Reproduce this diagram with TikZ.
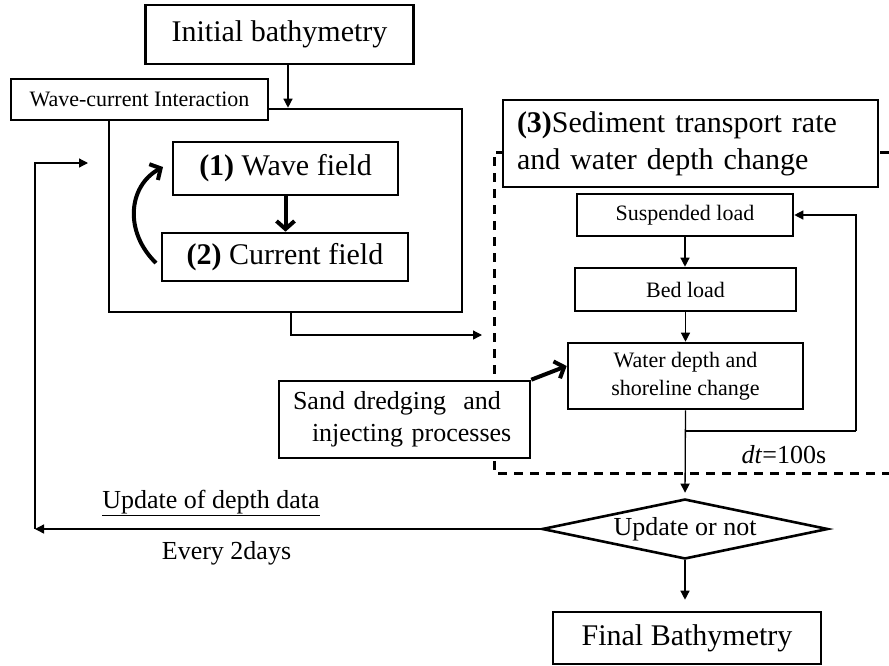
\documentclass[tikz,border=0pt]{standalone}
\usepackage{fontspec}
\setmainfont{Liberation Serif}
\usetikzlibrary{arrows.meta,shapes.geometric,calc}
\tikzset{
  box/.style={draw, line width=2.6pt, fill=white, inner sep=0pt, align=center},
  conn/.style={line width=1.3pt, -{Triangle[length=9pt,width=9pt]}},
  plainline/.style={line width=1.3pt},
  bigarrow/.style={line width=4pt, -{Straight Barb[length=8pt,width=18pt]}},
  fthirty/.style={font=\fontsize{30}{37}\selectfont},
  ftwsix/.style={font=\fontsize{26}{32}\selectfont},
  ftwtwo/.style={font=\fontsize{22}{28}\selectfont},
  dashbox/.style={line width=3pt, dash pattern=on 9pt off 7pt},
}
\begin{document}
\begin{tikzpicture}[x=1pt,y=-1pt]
\useasboundingbox[fill=white] (0,0) rectangle (889,665);

% top
\node[box, fthirty, minimum width=268pt, minimum height=59pt] (init) at (279.5,34.5) {Initial bathymetry};

% wave-current interaction block
\node[box, minimum width=353pt, minimum height=203pt] (big) at (285.5,210.5) {};
\node[box, ftwtwo, minimum width=257pt, minimum height=41pt] (wci) at (139.5,99.5) {Wave-current Interaction};
\node[box, fthirty, minimum width=225pt, minimum height=53pt] (wave) at (285.5,168.5) {\textbf{(1)} Wave field};
\node[box, fthirty, minimum width=246pt, minimum height=48pt] (current) at (285,257) {\textbf{(2)} Current field};

\draw[conn] ([xshift=8.5pt]init.south) -- ([xshift=8.5pt]init.south |- big.north);
\draw[bigarrow] (wave.south) -- (wave.south |- current.north);
\coordinate (cvs) at (156,263);
\coordinate (cve) at (163,167);
\draw[bigarrow] (cvs) .. controls (124,232) and (128,186) .. (cve);

% sediment block
\draw[dashbox] (889,152) -- (494,152) -- (494,473) -- (889,473);
\node[box, fthirty, minimum width=375pt, minimum height=87pt, text width=347pt, align=left] (sed) at (690.5,143.5) {\textbf{(3)}Sediment transport rate\\and water depth change};
\node[box, ftwtwo, minimum width=216pt, minimum height=42pt] (susp) at (685,215) {Suspended load};
\node[box, ftwtwo, minimum width=221pt, minimum height=43pt] (bed) at (685.5,289.5) {Bed load};
\node[box, ftwtwo, minimum width=235pt, minimum height=66pt] (water) at (685.5,376) {Water depth and\\shoreline change};
\node[box, ftwsix, minimum width=251pt, minimum height=77pt, text width=223pt, align=left] (sand) at (404.5,419.5) {Sand dredging\ \ and\\\hspace*{19pt}injecting processes};

\draw[conn] (susp.south) -- (susp.south |- bed.north);
\draw[conn] (bed.south) -- (bed.south |- water.north);
\draw[bigarrow] (sand.north east) -- ([yshift=10pt]water.west);

\coordinate (tipR) at (482,335);
\draw[conn] ([xshift=5.5pt]big.south) |- (tipR);

\coordinate (br) at (685.5,431);
\coordinate (rr) at (856,431);
\draw[plainline] (br) -- (rr);
\draw[conn] (rr) |- (susp.east);

\node[ftwsix, inner sep=0pt] (dtl) at (784,455) {\textit{dt}=100s};

% decision
\node[draw, diamond, line width=2.6pt, fill=white, inner sep=0pt, aspect=4.77,
      minimum width=286pt, minimum height=60pt, ftwsix] (dec) at (685,529) {Update or not};
\draw[conn, shorten >=5pt] (water.south) -- (dec.north);

\node[box, fthirty, minimum width=268pt, minimum height=52pt] (final) at (687,638) {Final Bathymetry};
\draw[conn, shorten >=11pt] (dec.south) -- (dec.south |- final.north);

% left loop
\coordinate (lb) at (35,529);
\coordinate (ltop) at (35,163);
\coordinate (ltip) at (88,163);
\draw[conn] (dec.west) -- (lb);
\draw[conn] (lb) -- (ltop) -- (ltip);

\node[ftwsix, inner sep=0pt] (upd) at (211,503) {\underline{Update of depth data}};
\node[ftwsix, inner sep=0pt] (every) at (226.5,553) {Every 2days};
\end{tikzpicture}
\end{document}
